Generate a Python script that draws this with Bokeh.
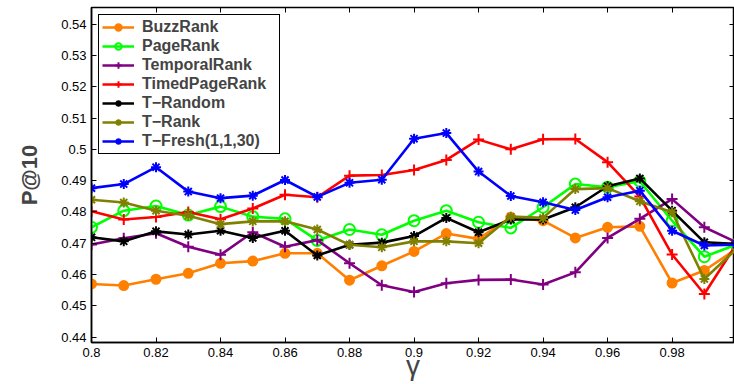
from bokeh.plotting import figure
from bokeh.models import (Range1d, FixedTicker, CustomJSTickFormatter, LinearAxis, Legend)
from bokeh.embed import file_html
from bokeh.resources import INLINE

gamma = [0.80, 0.81, 0.82, 0.83, 0.84, 0.85, 0.86, 0.87, 0.88, 0.89, 0.90,
         0.91, 0.92, 0.93, 0.94, 0.95, 0.96, 0.97, 0.98, 0.99, 1.00]

buzzrank = [0.4570, 0.4565, 0.4585, 0.4604, 0.4636, 0.4643, 0.4668, 0.4668, 0.4582, 0.4628, 0.4674,
            0.4731, 0.4714, 0.4783, 0.4772, 0.4717, 0.4751, 0.4754, 0.4573, 0.4613, 0.4682]
pagerank = [0.4751, 0.4804, 0.4819, 0.4790, 0.4817, 0.4785, 0.4778, 0.4709, 0.4744, 0.4727, 0.4772,
            0.4804, 0.4767, 0.4749, 0.4815, 0.4889, 0.4879, 0.4898, 0.4772, 0.4657, 0.4696]
temporalrank = [0.4696, 0.4716, 0.4732, 0.4689, 0.4663, 0.4735, 0.4689, 0.4710, 0.4636, 0.4566, 0.4544,
                0.4572, 0.4583, 0.4584, 0.4568, 0.4607, 0.4717, 0.4778, 0.4841, 0.4751, 0.4703]
timedpagerank = [0.4802, 0.4776, 0.4784, 0.4800, 0.4777, 0.4811, 0.4855, 0.4847, 0.4916, 0.4918, 0.4934,
                 0.4966, 0.5031, 0.5000, 0.5032, 0.5033, 0.4959, 0.4849, 0.4664, 0.4538, 0.4698]
t_random = [0.4719, 0.4706, 0.4738, 0.4728, 0.4740, 0.4717, 0.4740, 0.4661, 0.4695, 0.4702, 0.4723,
            0.4781, 0.4735, 0.4776, 0.4776, 0.4815, 0.4882, 0.4907, 0.4804, 0.4703, 0.4698]
t_rank = [0.4839, 0.4830, 0.4804, 0.4788, 0.4761, 0.4770, 0.4770, 0.4744, 0.4695, 0.4687, 0.4706,
          0.4706, 0.4700, 0.4785, 0.4781, 0.4873, 0.4876, 0.4834, 0.4799, 0.4586, 0.4682]
t_fresh = [0.4876, 0.4889, 0.4943, 0.4865, 0.4844, 0.4852, 0.4902, 0.4848, 0.4893, 0.4903, 0.5034,
           0.5052, 0.4929, 0.4851, 0.4831, 0.4806, 0.4847, 0.4868, 0.4740, 0.4693, 0.4696]

series_names = ["BuzzRank", "PageRank", "TemporalRank", "TimedPageRank",
                "T\u2212Random", "T\u2212Rank", "T\u2212Fresh(1,1,30)"]
series_values = [buzzrank, pagerank, temporalrank, timedpagerank, t_random, t_rank, t_fresh]

x_ticks = [0.80, 0.82, 0.84, 0.86, 0.88, 0.90, 0.92, 0.94, 0.96, 0.98, 1.00]
y_ticks = [0.44, 0.45, 0.46, 0.47, 0.48, 0.49, 0.50, 0.51, 0.52, 0.53, 0.54]

colors = ["#FF8000", "#00FF00", "#800080", "#FF0000", "#000000", "#808000", "#0000FF"]
markers = ["circle", "circle", "cross", "cross", "asterisk", "asterisk", "asterisk"]
fills = [True, False, False, False, False, False, False]
msizes = [9, 11, 11, 11, 10, 10, 10]

p = figure(width=734, height=384, output_backend="svg", toolbar_location=None,
           x_range=Range1d(0.8, 0.99935), y_range=Range1d(0.4383, 0.5453),
           min_border_left=91, min_border_right=0, min_border_top=7, min_border_bottom=42)
p.xgrid.visible = False
p.ygrid.visible = False
p.outline_line_color = "black"
p.outline_line_width = 1.5
p.outline_line_alpha = 1.0

fmt = CustomJSTickFormatter(code="var s = tick.toFixed(2); s = s.replace(/0+$/, ''); s = s.replace(/\\.$/, ''); return s;")
blank = CustomJSTickFormatter(code="return '';")

for ax, tk in ((p.xaxis[0], x_ticks), (p.yaxis[0], y_ticks)):
    ax.ticker = FixedTicker(ticks=tk)
    ax.formatter = fmt
    ax.major_tick_in = 5
    ax.major_tick_out = 0
    ax.minor_tick_in = 0
    ax.minor_tick_out = 0
    ax.axis_line_width = 1.5
    ax.axis_line_color = "black"
    ax.major_tick_line_width = 1
    ax.major_label_text_font = "Liberation Sans"
    ax.major_label_text_font_size = "13px"
    ax.major_label_text_color = "black"
    ax.major_label_standoff = 5

p.yaxis[0].axis_label = "P@10"
p.yaxis[0].axis_label_text_font = "Liberation Sans"
p.yaxis[0].axis_label_text_font_style = "bold"
p.yaxis[0].axis_label_text_font_size = "22px"
p.yaxis[0].axis_label_standoff = 16
p.xaxis[0].axis_label = "\u03b3"
p.xaxis[0].axis_label_text_font = "Liberation Sans"
p.xaxis[0].axis_label_text_font_style = "normal"
p.xaxis[0].axis_label_text_font_size = "28px"
p.xaxis[0].axis_label_standoff = -10

top_ax = LinearAxis(ticker=FixedTicker(ticks=x_ticks), formatter=blank,
                    major_tick_in=5, major_tick_out=0, minor_tick_in=0, minor_tick_out=0,
                    axis_line_color=None, major_label_standoff=0)
right_ax = LinearAxis(ticker=FixedTicker(ticks=y_ticks), formatter=blank,
                      major_tick_in=5, major_tick_out=0, minor_tick_in=0, minor_tick_out=0,
                      axis_line_color=None, major_label_standoff=0)
p.add_layout(top_ax, "above")
p.add_layout(right_ax, "right")

items = []
for name, vals, c, m, f, s in zip(series_names, series_values, colors, markers, fills, msizes):
    r1 = p.line(gamma, vals, line_color=c, line_width=2.6)
    r2 = p.scatter(gamma, vals, marker=m, size=s, line_color=c, line_width=2,
                   fill_color=c if f else None)
    items.append((name, [r1, r2]))

legend = Legend(items=items, location="top_left")
legend.margin = 7
legend.padding = 3
legend.spacing = 1
legend.glyph_width = 32
legend.glyph_height = 16
legend.label_height = 16
legend.label_width = 134
legend.label_standoff = 8
legend.label_text_font = "Liberation Sans"
legend.label_text_font_style = "bold"
legend.label_text_font_size = "16px"
legend.border_line_color = "black"
legend.border_line_width = 1.5
legend.border_line_alpha = 1.0
legend.background_fill_alpha = 1.0
p.add_layout(legend, "center")

open("out.html", "w").write(file_html(p, INLINE))
